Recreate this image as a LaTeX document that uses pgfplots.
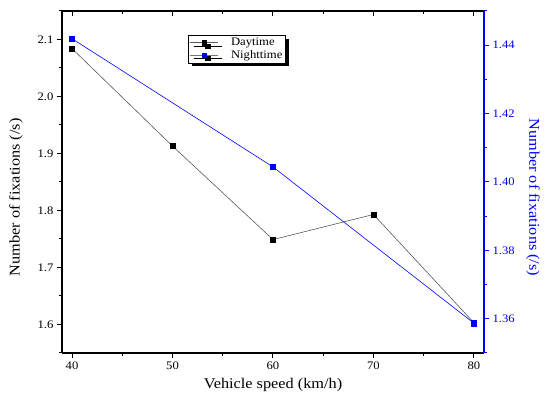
\documentclass[border=0pt]{standalone}
\usepackage{pgfplots}
\pgfplotsset{compat=1.18}
\usepackage{fontspec}
\setmainfont{Liberation Serif}[FakeStretch=1.1]
\usetikzlibrary{shadows}
\definecolor{dayline}{RGB}{90,90,90}
\definecolor{nightblue}{RGB}{0,0,255}
\begin{document}
\begin{tikzpicture}
\path[use as bounding box] (-62pt,-45pt) rectangle (488pt,353pt);
% left axis with daytime
\begin{axis}[
  scale only axis, width=422pt, height=342pt,
  at={(0,0)}, anchor=south west,
  xmin=39, xmax=81, ymin=1.55, ymax=2.15,
  axis x line*=bottom, axis y line*=left,
  axis line style={-, line width=1.1pt},
  tick align=outside,
  major tick length=5pt, minor tick length=3pt,
  every tick/.style={black, line width=1pt},
  xtick={40,50,60,70,80}, minor xtick={45,55,65,75},
  ytick={1.6,1.7,1.8,1.9,2.0,2.1}, minor ytick={1.55,1.65,1.75,1.85,1.95,2.05,2.15},
  yticklabel style={/pgf/number format/.cd, fixed, fixed zerofill, precision=1},
  /pgf/number format/assume math mode=true,
  ticklabel style={font=\fontsize{11.5}{13}\selectfont},
  xlabel={Vehicle speed (km/h)},
  ylabel={Number of fixations (/s)},
  label style={font=\fontsize{14.8}{17}\selectfont},
  xlabel style={at={(axis description cs:0.5,-0.094)}, anchor=center},
  ylabel style={at={(axis description cs:-0.109,0.455)}, anchor=center, rotate=0},
  legend style={at={(axis description cs:0.299,0.93)}, anchor=north west,
    font=\fontsize{11.5}{13}\selectfont, draw=black, line width=0.6pt,
    fill=white, inner sep=1.5pt, row sep=0pt, column sep=11pt,
    nodes={inner sep=1.5pt},
    drop shadow={shadow xshift=3.5pt, shadow yshift=-3.5pt, fill=black, opacity=1}},
  legend cell align=left,
  clip=false,
]
\addplot[dayline, line width=0.6pt, mark=square*, mark size=2.6pt, mark options={fill=black, draw=black}, forget plot]
  coordinates {(40,2.084) (50,1.913) (60,1.749) (70,1.793) (80,1.603)};
\addlegendimage{legend image code/.code={
  \draw[dayline, line width=0.6pt] (0pt,0pt) -- (28pt,0pt);
  \fill[black] (11.8pt,-2.2pt) rectangle (16.2pt,2.2pt);}}
\addlegendentry{Daytime}
\addlegendimage{legend image code/.code={
  \draw[nightblue!60, line width=0.6pt] (0pt,0pt) -- (28pt,0pt);
  \fill[nightblue] (11.8pt,-2.2pt) rectangle (16.2pt,2.2pt);}}
\addlegendentry{Nighttime}
\end{axis}
% top axis ticks inward
\begin{axis}[
  scale only axis, width=422pt, height=342pt,
  at={(0,0)}, anchor=south west,
  xmin=39, xmax=81, ymin=0, ymax=1,
  axis x line*=top, axis y line=none,
  axis line style={-, line width=1.1pt},
  tick align=inside,
  major tick length=5pt, minor tick length=3pt,
  every tick/.style={black, line width=1pt},
  xtick={40,50,60,70,80}, minor xtick={45,55,65,75},
  xticklabels={},
]
\end{axis}
% right axis with nighttime
\begin{axis}[
  scale only axis, width=422pt, height=342pt,
  at={(0,0)}, anchor=south west,
  xmin=39, xmax=81, ymin=1.35, ymax=1.45,
  axis x line=none, axis y line*=right,
  axis line style={-, line width=1.1pt, nightblue},
  tick align=outside,
  major tick length=5pt, minor tick length=3pt,
  every tick/.style={nightblue, line width=1pt},
  ytick={1.36,1.38,1.40,1.42,1.44}, minor ytick={1.35,1.37,1.39,1.41,1.43,1.45},
  yticklabel style={/pgf/number format/.cd, fixed, fixed zerofill, precision=2},
  /pgf/number format/assume math mode=true,
  ticklabel style={font=\fontsize{11.5}{13}\selectfont, text=nightblue},
  ylabel={Number of fixations (/s)},
  ylabel style={font=\fontsize{14.8}{17}\selectfont, text=nightblue, at={(axis description cs:1.116,0.455)}, anchor=center, rotate=180},
  clip=false,
]
\addplot[nightblue, line width=0.6pt, mark=square*, mark size=2.6pt, mark options={fill=nightblue, draw=nightblue}]
  coordinates {(40,1.4419) (60,1.4044) (80,1.3587)};
\end{axis}
\end{tikzpicture}
\end{document}
